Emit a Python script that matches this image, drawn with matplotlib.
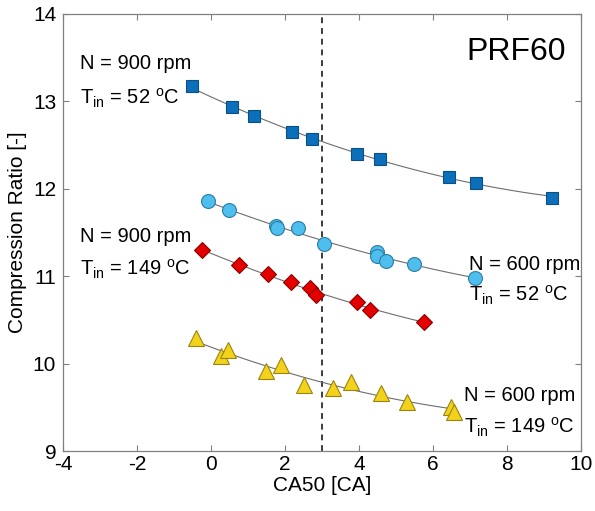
import numpy as np
import matplotlib
matplotlib.use('Agg')
import matplotlib.pyplot as plt

plt.rcParams['font.family'] = ['Liberation Sans', 'DejaVu Sans']
plt.rcParams['mathtext.fontset'] = 'custom'
plt.rcParams['mathtext.rm'] = 'Liberation Sans'
plt.rcParams['mathtext.it'] = 'Liberation Sans:italic'
plt.rcParams['axes.unicode_minus'] = False

# N = 900 rpm, Tin = 52 C
x_900_52 = [-0.52, 0.56, 1.16, 2.20, 2.74, 3.96, 4.57, 6.45, 7.16, 9.22]
y_900_52 = [13.17, 12.94, 12.83, 12.65, 12.57, 12.40, 12.34, 12.13, 12.07, 11.90]

# N = 600 rpm, Tin = 52 C
x_600_52 = [-0.09, 0.48, 1.75, 1.78, 2.36, 3.05, 4.50, 4.50, 4.74, 5.48, 7.14]
y_600_52 = [11.86, 11.76, 11.57, 11.55, 11.55, 11.37, 11.28, 11.23, 11.17, 11.14, 10.98]

# N = 900 rpm, Tin = 149 C
x_900_149 = [-0.23, 0.75, 1.55, 2.17, 2.67, 2.83, 3.96, 4.30, 5.75]
y_900_149 = [11.30, 11.13, 11.02, 10.93, 10.86, 10.79, 10.70, 10.61, 10.48]

# N = 600 rpm, Tin = 149 C
x_600_149 = [-0.41, 0.27, 0.47, 1.48, 1.90, 2.51, 3.31, 3.79, 4.59, 5.30, 6.48, 6.57]
y_600_149 = [10.29, 10.09, 10.16, 9.92, 9.99, 9.76, 9.72, 9.79, 9.66, 9.56, 9.50, 9.45]

fig = plt.figure(figsize=(5.95, 5.11), dpi=100)
ax = fig.add_axes([0.106, 0.117, 0.870, 0.856])

series = [
    (x_900_52, y_900_52, 's', '#0b6fba', '#0a4f85', 8.5),
    (x_600_52, y_600_52, 'o', '#4dbeee', '#2a7fa5', 10),
    (x_900_149, y_900_149, 'D', '#e50000', '#8a0000', 8),
    (x_600_149, y_600_149, '^', '#f2d21b', '#9a8410', 11),
]

for xs, ys, mk, fc, ec, ms in series:
    xs = np.array(xs)
    ys = np.array(ys)
    # quadratic trend line through the measured points
    p = np.polyfit(xs, ys, 2)
    xf = np.linspace(xs.min(), xs.max(), 100)
    ax.plot(xf, np.polyval(p, xf), '-', color='#6e6e6e', lw=0.8, zorder=2)
    ax.plot(xs, ys, mk, ms=ms, mfc=fc, mec=ec, mew=0.8, zorder=3)

ax.axvline(3, color='#3c3c3c', ls=(0, (3, 2.5)), lw=1.4, zorder=1)

fs = 14.5
ax.text(-3.55, 13.43, 'N = 900 rpm', fontsize=fs, va='center')
ax.text(-3.55, 13.03, r'T$_{\rm in}$ = 52 $^{\rm o}$C', fontsize=fs, va='center')
ax.text(-3.55, 11.46, 'N = 900 rpm', fontsize=fs, va='center')
ax.text(-3.55, 11.08, r'T$_{\rm in}$ = 149 $^{\rm o}$C', fontsize=fs, va='center')
ax.text(6.97, 11.13, 'N = 600 rpm', fontsize=fs, va='center')
ax.text(6.97, 10.78, r'T$_{\rm in}$ = 52 $^{\rm o}$C', fontsize=fs, va='center')
ax.text(6.83, 9.64, 'N = 600 rpm', fontsize=fs, va='center')
ax.text(6.83, 9.27, r'T$_{\rm in}$ = 149 $^{\rm o}$C', fontsize=fs, va='center')
ax.text(9.6, 13.56, 'PRF60', fontsize=23, va='center', ha='right')

ax.set_xlim(-4, 10)
ax.set_ylim(9, 14)
ax.set_xticks(np.arange(-4, 11, 2))
ax.set_yticks(np.arange(9, 15, 1))
ax.tick_params(direction='in', top=True, right=True, labelsize=15,
               color='#808080', length=4, width=0.8, pad=3)
ax.tick_params(axis='y', pad=5)
for s in ax.spines.values():
    s.set_color('#808080')
    s.set_linewidth(0.9)
ax.set_xlabel('CA50 [CA]', fontsize=15, labelpad=1)
ax.set_ylabel('Compression Ratio [-]', fontsize=15, labelpad=4)

fig.savefig('out.png', dpi=100)
